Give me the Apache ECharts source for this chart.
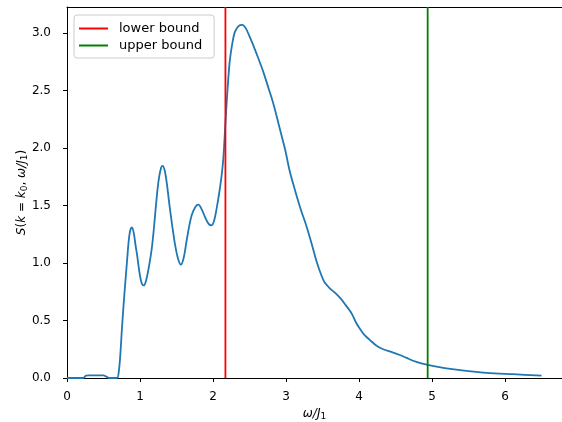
<!DOCTYPE html>
<html>
<head>
<meta charset="utf-8">
<script src="https://cdn.jsdelivr.net/npm/echarts@6/dist/echarts.min.js"></script>
<style>
html,body{margin:0;padding:0;background:#fff;}
#chart{width:562px;height:422px;}
</style>
</head>
<body>
<div id="chart"></div>
<script>
// Data
const omega = [0, 0.22, 0.26, 0.30, 0.50, 0.54, 0.58, 0.685, 0.71, 0.73, 0.753, 0.78, 0.80, 0.825, 0.845, 0.865, 0.89, 0.915, 0.94, 0.96, 0.99, 1.02, 1.05, 1.08, 1.12, 1.16, 1.19, 1.23, 1.26, 1.29, 1.31, 1.34, 1.37, 1.40, 1.44, 1.48, 1.52, 1.56, 1.60, 1.64, 1.68, 1.71, 1.76, 1.80, 1.85, 1.89, 1.94, 1.98, 2.02, 2.07, 2.11, 2.14, 2.17, 2.20, 2.23, 2.27, 2.30, 2.35, 2.40, 2.45, 2.50, 2.56, 2.62, 2.69, 2.76, 2.82, 2.87, 2.93, 2.99, 3.05, 3.12, 3.20, 3.28, 3.35, 3.42, 3.48, 3.53, 3.60, 3.69, 3.75, 3.81, 3.90, 3.96, 4.01, 4.08, 4.15, 4.24, 4.33, 4.45, 4.56, 4.65, 4.74, 4.84, 4.94, 5.10, 5.25, 5.50, 5.75, 6.10, 6.50];
const sValues = [0, 0, 0.02, 0.022, 0.022, 0.012, 0, 0, 0.06, 0.20, 0.435, 0.68, 0.84, 1.04, 1.19, 1.28, 1.31, 1.26, 1.15, 1.07, 0.93, 0.83, 0.805, 0.84, 0.96, 1.12, 1.30, 1.58, 1.74, 1.83, 1.845, 1.80, 1.68, 1.52, 1.33, 1.16, 1.04, 0.985, 1.05, 1.20, 1.34, 1.42, 1.49, 1.507, 1.46, 1.40, 1.34, 1.327, 1.38, 1.55, 1.72, 1.90, 2.22, 2.52, 2.76, 2.93, 3.01, 3.06, 3.07, 3.04, 2.97, 2.88, 2.78, 2.66, 2.52, 2.40, 2.28, 2.13, 1.98, 1.80, 1.64, 1.47, 1.32, 1.17, 1.01, 0.90, 0.83, 0.78, 0.73, 0.69, 0.64, 0.56, 0.48, 0.43, 0.37, 0.33, 0.28, 0.25, 0.225, 0.20, 0.175, 0.15, 0.13, 0.115, 0.095, 0.08, 0.06, 0.045, 0.033, 0.02];
const lowerBound = 2.17;
const upperBound = 4.94;
const xTicks = [0, 1, 2, 3, 4, 5, 6];
const yTicks = [0, 0.5, 1.0, 1.5, 2.0, 2.5, 3.0];
const xMax = 6.78;
const yMax = 3.226;

const FONT = 'DejaVu Sans';
const chart = echarts.init(document.getElementById('chart'), null, {renderer: 'canvas'});
const curve = omega.map((w, i) => [w, sValues[i]]);
const spine = {show: true, onZero: false, lineStyle: {color: '#000', width: 1}};

const option = {
  backgroundColor: '#fff',
  animation: false,
  grid: {left: 67, top: 7, right: 0, bottom: 44, containLabel: false, outerBoundsMode: 'none'},
  legend: {
    orient: 'vertical',
    left: 74, top: 15,
    padding: [7, 12, 6, 5],
    itemGap: 4,
    itemWidth: 29, itemHeight: 2,
    icon: 'rect',
    backgroundColor: 'rgba(255,255,255,0.8)',
    borderColor: '#cccccc', borderWidth: 1, borderRadius: 3,
    textStyle: {fontFamily: FONT, fontSize: 13, color: '#000', padding: [0, 0, 0, 6]},
    data: ['lower bound', 'upper bound']
  },
  xAxis: [{
    type: 'value', min: 0, max: xMax, interval: 1,
    position: 'bottom',
    name: '{i|ω/J}{s|1}',
    nameLocation: 'middle', nameGap: 28, nameMoveOverlap: false,
    nameTextStyle: {
      fontFamily: FONT, fontSize: 12, color: '#000',
      rich: {i: {fontFamily: FONT, fontSize: 12, fontStyle: 'italic', color: '#000'},
             s: {fontFamily: FONT, fontSize: 9, color: '#000', verticalAlign: 'bottom', padding: [6, 0, 0, 0]}}
    },
    splitLine: {show: false},
    axisLine: spine,
    axisTick: {show: true, length: 4, inside: false, lineStyle: {color: '#000', width: 1}, customValues: xTicks},
    axisLabel: {
      fontFamily: FONT, fontSize: 12, color: '#000', margin: 13,
      customValues: xTicks,
      formatter: v => (Math.abs(v - Math.round(v)) < 1e-9 ? String(Math.round(v)) : '')
    }
  }, {
    type: 'value', min: 0, max: xMax, position: 'top',
    axisLine: spine, axisTick: {show: false}, axisLabel: {show: false}, splitLine: {show: false}
  }],
  yAxis: [{
    type: 'value', min: 0, max: yMax, interval: 0.5,
    position: 'left',
    name: '{i|S}{n|(}{i|k}{n| = }{i|k}{s|0}{n|, }{i|ω/J}{s|1}{n|)}',
    nameLocation: 'middle', nameRotate: 90, nameGap: 38, nameMoveOverlap: false,
    nameTextStyle: {
      fontFamily: FONT, fontSize: 12, color: '#000',
      rich: {i: {fontFamily: FONT, fontSize: 12, fontStyle: 'italic', color: '#000'},
             n: {fontFamily: FONT, fontSize: 12, color: '#000'},
             s: {fontFamily: FONT, fontSize: 9, color: '#000', verticalAlign: 'bottom', padding: [6, 0, 0, 0]}}
    },
    splitLine: {show: false},
    axisLine: spine,
    axisTick: {show: true, length: 4, inside: false, lineStyle: {color: '#000', width: 1}, customValues: yTicks},
    axisLabel: {
      fontFamily: FONT, fontSize: 12, color: '#000', margin: 16,
      customValues: yTicks,
      formatter: v => (Math.abs(v * 2 - Math.round(v * 2)) < 1e-9 ? v.toFixed(1) : '')
    }
  }],
  series: [{
    name: 'S',
    type: 'line',
    data: curve,
    smooth: 0.3,
    showSymbol: false,
    lineStyle: {color: '#1f77b4', width: 1.8},
    z: 3
  }, {
    name: 'lower bound',
    type: 'line',
    data: [[lowerBound, 0], [lowerBound, yMax]],
    showSymbol: false,
    color: '#ff0000',
    lineStyle: {color: '#ff0000', width: 1.8},
    z: 4
  }, {
    name: 'upper bound',
    type: 'line',
    data: [[upperBound, 0], [upperBound, yMax]],
    showSymbol: false,
    color: '#008000',
    lineStyle: {color: '#008000', width: 1.8},
    z: 4
  }]
};
chart.setOption(option);
</script>
</body>
</html>
